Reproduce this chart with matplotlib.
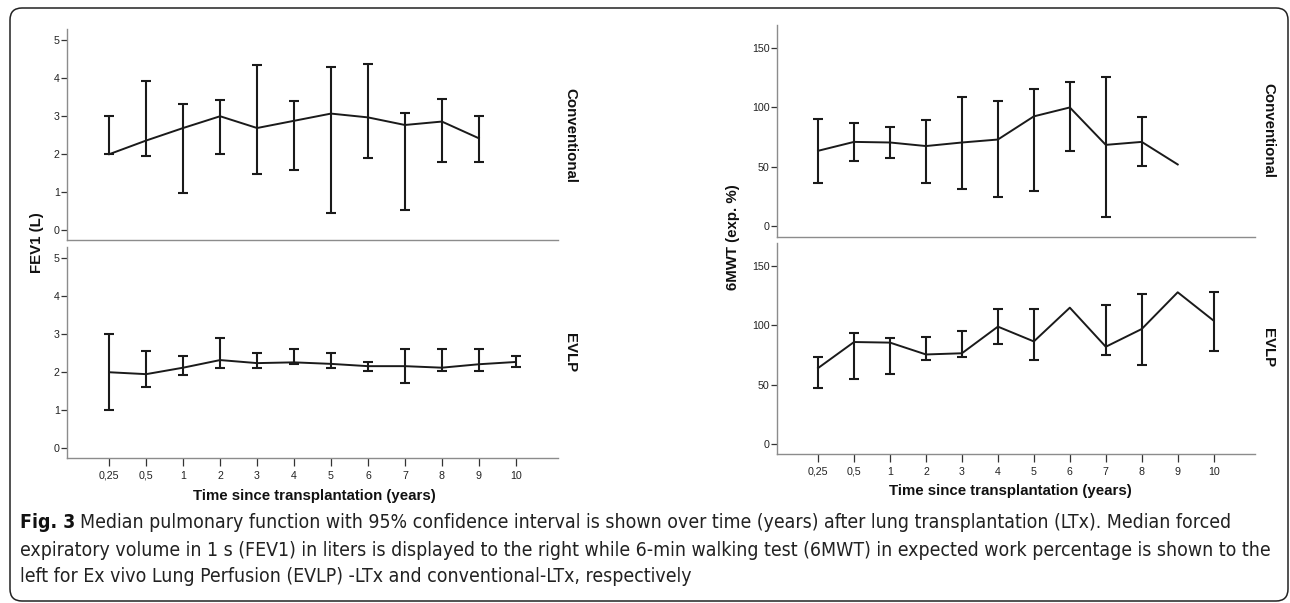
import numpy as np
import matplotlib.pyplot as plt
from matplotlib.patches import FancyBboxPatch

# time points (categorical x axis)
times = ["0,25", "0,5", "1", "2", "3", "4", "5", "6", "7", "8", "9", "10"]
nan = np.nan

# FEV1 (L) - conventional
fev1_conv = [2.0, 2.36, 2.69, 3.0, 2.69, 2.88, 3.07, 2.97, 2.77, 2.86, 2.42, nan]
fev1_conv_lo = [2.0, 1.94, 0.99, 2.0, 1.49, 1.59, 0.44, 1.89, 0.52, 1.79, 1.79, nan]
fev1_conv_hi = [3.0, 3.93, 3.32, 3.42, 4.34, 3.39, 4.30, 4.38, 3.08, 3.45, 3.01, nan]

# FEV1 (L) - EVLP
fev1_evlp = [2.0, 1.95, 2.12, 2.32, 2.24, 2.26, 2.22, 2.16, 2.16, 2.12, 2.21, 2.27]
fev1_evlp_lo = [1.0, 1.61, 1.92, 2.11, 2.12, 2.21, 2.11, 2.03, 1.72, 2.03, 2.03, 2.13]
fev1_evlp_hi = [3.0, 2.56, 2.42, 2.91, 2.51, 2.61, 2.51, 2.28, 2.61, 2.61, 2.61, 2.42]

# 6MWT (exp. %) - conventional
mwt_conv = [63.5, 71.0, 70.5, 67.5, 70.5, 73.0, 92.5, 100.0, 68.5, 71.0, 52.0, nan]
mwt_conv_lo = [36.5, 55.0, 57.5, 36.5, 31.5, 24.5, 29.5, 63.5, 8.0, 50.5, nan, nan]
mwt_conv_hi = [90.5, 87.0, 83.5, 89.5, 109.0, 105.5, 115.5, 121.5, 125.5, 92.0, nan, nan]

# 6MWT (exp. %) - EVLP
mwt_evlp = [64.0, 86.0, 85.5, 75.5, 76.5, 99.0, 86.5, 115.0, 82.0, 97.0, 128.0, 104.0]
mwt_evlp_lo = [47.0, 55.0, 59.0, 70.5, 73.0, 84.0, 71.0, nan, 75.0, 67.0, nan, 78.0]
mwt_evlp_hi = [73.0, 94.0, 89.0, 90.0, 95.0, 114.0, 113.5, nan, 117.5, 126.5, nan, 128.0]

caption = [
    "Median pulmonary function with 95% confidence interval is shown over time (years) after lung transplantation (LTx). Median forced",
    "expiratory volume in 1 s (FEV1) in liters is displayed to the right while 6-min walking test (6MWT) in expected work percentage is shown to the",
    "left for Ex vivo Lung Perfusion (EVLP) -LTx and conventional-LTx, respectively",
]

plt.rcParams["font.family"] = ["Liberation Sans", "DejaVu Sans"]

W, H = 1290, 603
fig = plt.figure(figsize=(W / 100, H / 100), dpi=100)

# outer rounded frame in pixel coordinates
bg = fig.add_axes([0, 0, 1, 1])
bg.set_xlim(0, W)
bg.set_ylim(H, 0)
bg.set_axis_off()
bg.add_patch(FancyBboxPatch((10, 8), 1278, 593, boxstyle="round,pad=0,rounding_size=12",
                            fill=False, ec="#222222", lw=1.1))

SPINE = "#8c8c8c"
INK = "#1a1a1a"


def panel(rect, y, lo, hi, ylim, yticks, bottom):
    ax = fig.add_axes(rect)
    x = np.arange(len(times))
    y = np.array(y, float)
    lo = np.array(lo, float)
    hi = np.array(hi, float)
    ax.plot(x, y, color=INK, lw=1.4, zorder=3)
    ok = ~np.isnan(lo)
    ax.errorbar(x[ok], (lo[ok] + hi[ok]) / 2, yerr=(hi[ok] - lo[ok]) / 2, fmt="none",
                ecolor=INK, elinewidth=1.5, capsize=3.6, capthick=1.5, zorder=3)
    ax.set_xlim(-1.15, 12.15)
    ax.set_ylim(*ylim)
    ax.set_yticks(yticks)
    for s in ["top", "right"]:
        ax.spines[s].set_visible(False)
    for s in ["left", "bottom"]:
        ax.spines[s].set_color(SPINE)
        ax.spines[s].set_linewidth(1.0)
    ax.tick_params(axis="y", length=4, width=0.9, color="#333333", labelsize=7.7,
                   labelcolor="#222222", pad=1)
    if bottom:
        ax.set_xticks(x)
        ax.set_xticklabels(times)
        ax.tick_params(axis="x", length=6, width=0.9, color="#333333", labelsize=7.7,
                       labelcolor="#222222", pad=3)
    else:
        ax.set_xticks([])
    return ax


fev_lim = (-0.26, 5.3)
mwt_lim = (-8.8, 169.4)
panel([0.0517, 0.602, 0.3811, 0.350], fev1_conv, fev1_conv_lo, fev1_conv_hi,
      fev_lim, range(6), False)
panel([0.0517, 0.240, 0.3811, 0.351], fev1_evlp, fev1_evlp_lo, fev1_evlp_hi,
      fev_lim, range(6), True)
panel([0.6021, 0.6075, 0.3708, 0.351], mwt_conv, mwt_conv_lo, mwt_conv_hi,
      mwt_lim, [0, 50, 100, 150], False)
panel([0.6021, 0.2466, 0.3708, 0.350], mwt_evlp, mwt_evlp_lo, mwt_evlp_hi,
      mwt_lim, [0, 50, 100, 150], True)

lab = dict(fontsize=10.8, fontweight="bold", color="#111111", ha="center", va="center")
fig.text(0.442, 0.776, "Conventional", rotation=-90, **lab)
fig.text(0.442, 0.415, "EVLP", rotation=-90, **lab)
fig.text(0.983, 0.783, "Conventional", rotation=-90, **lab)
fig.text(0.983, 0.423, "EVLP", rotation=-90, **lab)
fig.text(0.0284, 0.597, "FEV1 (L)", rotation=90, **lab)
fig.text(0.568, 0.606, "6MWT (exp. %)", rotation=90, **lab)
fig.text(0.244, 0.178, "Time since transplantation (years)", **lab)
fig.text(0.783, 0.186, "Time since transplantation (years)", **lab)

# caption: the journal uses a condensed face, so fit the font size to the line widths
cap_font = ["DejaVu Sans"]
renderer = fig.canvas.get_renderer()
line2 = fig.text(20 / W, 1 - 550 / H, caption[1], fontsize=13, family=cap_font,
                 fontstretch="condensed", va="center", ha="left", color="#222222")
w2 = line2.get_window_extent(renderer).width
fs = 13 * 1250 / w2
line2.set_fontsize(fs)

fig_lbl = fig.text(20 / W, 1 - 523 / H, "Fig. 3", fontsize=fs, fontweight="bold",
                   family=cap_font, fontstretch="condensed", va="center", ha="left",
                   color="#111111")
x1 = fig_lbl.get_window_extent(renderer).x1 + 5
fig.text(x1 / W, 1 - 523 / H, caption[0], fontsize=fs, family=cap_font,
         fontstretch="condensed", va="center", ha="left", color="#222222")
fig.text(20 / W, 1 - 576 / H, caption[2], fontsize=fs, family=cap_font,
         fontstretch="condensed", va="center", ha="left", color="#222222")

fig.savefig("out.png", dpi=100)
